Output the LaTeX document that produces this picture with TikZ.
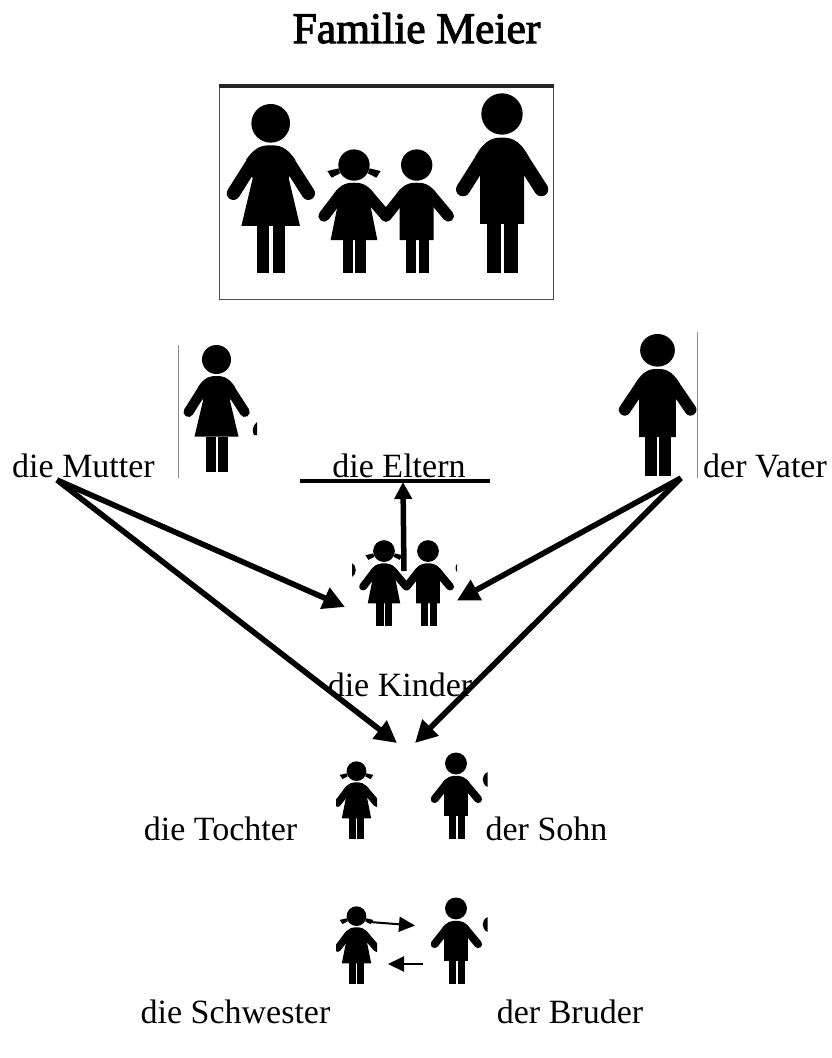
\documentclass[tikz,border=0pt]{standalone}
\usepackage{fontspec}
\setmainfont{Liberation Serif}
\newfontfamily\titlefont[FakeBold=2.4]{Liberation Serif}
\usetikzlibrary{arrows.meta}
\tikzset{
  lbl/.style={font=\fontsize{34}{36}\selectfont,inner sep=0pt,anchor=base,text=black},
  ttl/.style={font=\titlefont\fontsize{43.5}{45}\selectfont,inner sep=0pt,anchor=base,text=black},
  bigarrow/.style={line width=5.6pt,-{Triangle[length=22pt,width=22pt]},black},
  smallarrow/.style={line width=2pt,-{Triangle[length=16pt,width=15pt]},black},
  frameline/.style={draw=black!45,line width=.6pt},
  figscale/.initial=1,
  pics/woman/.style={code={
    \fill (0,-450) circle (58);
    \fill (-88,-142) -- (-54,-285) -- (-74,-340) .. controls (-45,-384) and (-20,-384) .. (0,-384)
       .. controls (20,-384) and (45,-384) .. (74,-340) -- (54,-285) -- (88,-142) -- cycle;
    \draw[line width=40*\pgfkeysvalueof{/tikz/figscale}pt,line cap=round] (-52,-335) -- (-112,-240);
    \draw[line width=40*\pgfkeysvalueof{/tikz/figscale}pt,line cap=round] (52,-335) -- (113,-240);
    \fill (-42,-142) rectangle (-4,0);
    \fill (6,-142) rectangle (44,0);
  }},
  pics/man/.style={code={
    \fill (0,-478) circle (62);
    \fill (-66,-148) -- (-66,-290) -- (-80,-350) .. controls (-50,-407) and (-20,-407) .. (0,-407)
       .. controls (20,-407) and (50,-407) .. (80,-350) -- (66,-290) -- (66,-148) -- cycle;
    \draw[line width=42*\pgfkeysvalueof{/tikz/figscale}pt,line cap=round] (-55,-350) -- (-117,-252);
    \draw[line width=42*\pgfkeysvalueof{/tikz/figscale}pt,line cap=round] (55,-350) -- (118,-252);
    \fill (-45,-148) rectangle (-3,0);
    \fill (5,-148) rectangle (47,0);
  }},
  pics/girl/.style={code={
    \fill (0,-323) circle (47);
    \fill (-80,-305) -- (-47,-313) -- (-42,-298) -- (-67,-285) -- cycle;
    \fill (80,-305) -- (47,-313) -- (42,-298) -- (67,-285) -- cycle;
    \fill (-70,-98) -- (-46,-218) -- (-62,-233) .. controls (-40,-270) and (-15,-270) .. (0,-270)
       .. controls (15,-270) and (40,-270) .. (62,-233) -- (46,-218) -- (70,-98) -- cycle;
    \draw[line width=34*\pgfkeysvalueof{/tikz/figscale}pt,line cap=round] (-38,-238) -- (-90,-170);
    \draw[line width=34*\pgfkeysvalueof{/tikz/figscale}pt,line cap=round] (38,-238) -- (96,-170);
    \fill (-34,-98) rectangle (-2,0);
    \fill (4,-98) rectangle (36,0);
  }},
  pics/boy/.style={code={
    \fill (0,-323) circle (47);
    \fill (-51,-98) -- (-51,-218) -- (-62,-233) .. controls (-40,-270) and (-15,-270) .. (0,-270)
       .. controls (15,-270) and (40,-270) .. (62,-233) -- (51,-218) -- (51,-98) -- cycle;
    \draw[line width=34*\pgfkeysvalueof{/tikz/figscale}pt,line cap=round] (-38,-238) -- (-92,-170);
    \draw[line width=34*\pgfkeysvalueof{/tikz/figscale}pt,line cap=round] (38,-238) -- (95,-170);
    \fill (-32,-98) rectangle (-2,0);
    \fill (7,-98) rectangle (38,0);
  }},
}
\newcommand{\person}[5]{% type, x, y(feet), xscale, yscale
  \pgfkeyssetvalue{/tikz/figscale}{#4}%
  \begin{scope}[shift={(#2,#3)},xscale=#4,yscale=#5]
    \pic[transform shape] {#1};
  \end{scope}}
\begin{document}
\begin{tikzpicture}[x=1pt,y=-1pt]
\useasboundingbox (0,0) rectangle (832,1058);
\fill[white] (0,0) rectangle (832,1058);

% title
\node[ttl] (title) at (416.5,43) {Familie Meier};

% family picture
\draw[draw=black!70,line width=1pt] (219.5,86) rectangle (553.5,299);
\fill[black!85] (219,84) rectangle (554,88);
\person{woman}{270.7}{273.3}{.3333}{.3333}
\person{girl}{354}{272.7}{.3333}{.3333}
\person{boy}{416.7}{272.7}{.3333}{.3333}
\person{man}{502}{273.3}{.3333}{.3333}

% Mutter
\draw[frameline] (178,345) -- (178,478);
\person{woman}{216.5}{472}{.25}{.25}
\fill (257,422) .. controls (252,426) and (252,432) .. (254,435) -- (257,435) -- cycle;

% Vater
\draw[frameline] (697,332) -- (697,478);
\person{man}{657.5}{476}{.28}{.263}

% Kinder
\person{girl}{384}{626}{.232}{.232}
\person{boy}{428}{626}{.232}{.232}
\fill (352,563) .. controls (357,566) and (357,574) .. (352,577) -- cycle;
\fill (457,564) .. controls (455,566) and (455,570) .. (457,572) -- cycle;

% Tochter / Sohn
\begin{scope}
  \clip (336,750) rectangle (377,845);
  \person{girl}{356.5}{839}{.21}{.21}
\end{scope}
\begin{scope}
  \clip (431,745) rectangle (483,845);
  \person{boy}{456}{838.7}{.233}{.233}
\end{scope}
\fill (487.7,772) .. controls (481,775) and (481,784) .. (487.7,787) -- cycle;

% Schwester / Bruder
\begin{scope}
  \clip (336,895) rectangle (377,990);
  \person{girl}{356.5}{984}{.21}{.21}
\end{scope}
\begin{scope}
  \clip (431,890) rectangle (483,990);
  \person{boy}{456}{983.7}{.233}{.233}
\end{scope}
\fill (487.7,917) .. controls (481,920) and (481,929) .. (487.7,932) -- cycle;

% labels
\node[lbl] (mutter) at (83.5,477) {die Mutter};
\node[lbl] (eltern) at (399,477) {die Eltern};
\node[lbl] (vater) at (765,477) {der Vater};
\node[lbl] (kinder) at (400,696) {die Kinder};
\node[lbl] (tochter) at (220.5,840) {die Tochter};
\node[lbl] (sohn) at (546.5,840) {der Sohn};
\node[lbl] (schwester) at (235.5,1023) {die Schwester};
\node[lbl] (bruder) at (570,1023) {der Bruder};

% connector anchors
\coordinate (mfrom) at (57,480);
\coordinate (vfrom) at (681,478);
\coordinate (kidsL) at (345,607);
\coordinate (kidsR) at (457,600.5);
\coordinate (childL) at (397,743);
\coordinate (childR) at (415,743);
\coordinate (kidsTop) at (404,571);
\coordinate (elternBar) at (403,482);
\coordinate (barL) at (300,481);
\coordinate (barR) at (490,481);
\coordinate (s1) at (370,922);
\coordinate (b1) at (415,925.5);
\coordinate (b2) at (423,964);
\coordinate (s2) at (388,964);

\draw[line width=4pt] (barL) -- (barR);
\draw[line width=5.5pt,-{Triangle[length=17pt,width=17pt]}] (kidsTop) -- (elternBar);
\draw[bigarrow] (mfrom) -- (kidsL);
\draw[bigarrow] (vfrom) -- (kidsR);
\draw[bigarrow] (mfrom) -- (childL);
\draw[bigarrow] (vfrom) -- (childR);
\draw[smallarrow] (s1) -- (b1);
\draw[smallarrow] (b2) -- (s2);
\end{tikzpicture}
\end{document}
